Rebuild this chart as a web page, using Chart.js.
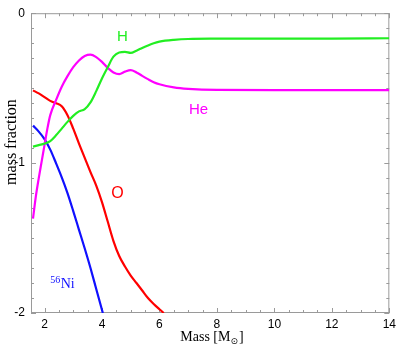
<!DOCTYPE html>
<html>
<head>
<meta charset="utf-8">
<script src="https://cdn.jsdelivr.net/npm/chart.js@4"></script>
<style>
  html, body { margin: 0; padding: 0; background: #fff; }
  #chart { display: block; }
</style>
</head>
<body>
<canvas id="chart" width="400" height="346"></canvas>
<script>
// log10 mass fraction vs. enclosed mass
const hMass  = [1.6, 1.8, 2.0, 2.2, 2.4, 2.6, 2.8, 3.0, 3.2, 3.4, 3.6, 3.8, 4.0, 4.2, 4.4, 4.6, 4.8, 5.0, 5.2, 5.4, 5.6, 5.8, 6.0, 6.5, 7.0, 8, 10, 12, 14];
const hFrac  = [-0.89, -0.88, -0.87, -0.853, -0.815, -0.77, -0.725, -0.685, -0.655, -0.64, -0.595, -0.52, -0.435, -0.36, -0.29, -0.262, -0.258, -0.265, -0.25, -0.232, -0.215, -0.2, -0.19, -0.178, -0.172, -0.17, -0.169, -0.169, -0.167];

const heMass = [1.6, 1.7, 1.8, 1.9, 2.0, 2.1, 2.2, 2.4, 2.6, 2.8, 3.0, 3.2, 3.4, 3.6, 3.8, 4.0, 4.2, 4.4, 4.6, 4.8, 5.0, 5.2, 5.4, 5.6, 5.8, 6.0, 6.5, 7.0, 8, 10, 12, 14];
const heFrac = [-1.37, -1.22, -1.1, -0.99, -0.88, -0.77, -0.68, -0.58, -0.49, -0.42, -0.36, -0.315, -0.285, -0.276, -0.293, -0.325, -0.365, -0.395, -0.406, -0.39, -0.38, -0.395, -0.418, -0.44, -0.46, -0.474, -0.495, -0.505, -0.512, -0.513, -0.513, -0.513];

const oMass  = [1.6, 1.8, 2.0, 2.2, 2.4, 2.6, 2.8, 3.0, 3.2, 3.4, 3.6, 3.8, 4.0, 4.2, 4.4, 4.6, 4.8, 5.0, 5.2, 5.4, 5.6, 5.8, 6.0, 6.15];
const oFrac  = [-0.515, -0.535, -0.56, -0.585, -0.6, -0.62, -0.68, -0.77, -0.87, -0.965, -1.06, -1.15, -1.26, -1.39, -1.52, -1.62, -1.69, -1.75, -1.80, -1.85, -1.90, -1.94, -1.975, -2.0];

const niMass = [1.6, 1.8, 2.0, 2.2, 2.4, 2.6, 2.8, 3.0, 3.2, 3.4, 3.6, 3.8, 4.03];
const niFrac = [-0.75, -0.79, -0.84, -0.91, -1.0, -1.095, -1.2, -1.32, -1.445, -1.57, -1.70, -1.84, -2.0];

const xTicks = [2, 4, 6, 8, 10, 12, 14];
const yTicks = [-2, -1, 0];

const xMin = 1.53, xMax = 14, yMin = -2, yMax = 0;

function pts(xs, ys) {
  return xs.map((x, i) => ({ x: x, y: ys[i] }));
}

function series(label, xs, ys, color) {
  return {
    label: label,
    data: pts(xs, ys),
    borderColor: color,
    borderWidth: 2.2,
    pointRadius: 0,
    fill: false,
    cubicInterpolationMode: 'monotone'
  };
}

// frame with inward ticks on all four sides
const framePlugin = {
  id: 'frame',
  beforeDatasetsDraw(chart) {
    const { ctx, chartArea: a, scales: { x, y } } = chart;
    ctx.save();
    ctx.strokeStyle = '#9a9a9a';
    ctx.lineWidth = 1;
    ctx.strokeRect(a.left + 0.5, a.top + 0.5, a.right - a.left - 1, a.bottom - a.top - 1);
    ctx.beginPath();
    for (let v = 2; v <= xMax + 1e-9; v += 0.5) {
      const px = Math.round(x.getPixelForValue(v)) + 0.5;
      const len = Math.abs(v % 2) < 1e-9 ? 5 : 3;
      ctx.moveTo(px, a.bottom); ctx.lineTo(px, a.bottom - len);
      ctx.moveTo(px, a.top); ctx.lineTo(px, a.top + len);
    }
    for (let k = -20; k <= 0; k++) {
      const v = k / 10;
      const py = Math.round(y.getPixelForValue(v)) + 0.5;
      const len = k % 10 === 0 ? 5 : 3;
      ctx.moveTo(a.left, py); ctx.lineTo(a.left + len, py);
      ctx.moveTo(a.right, py); ctx.lineTo(a.right - len, py);
    }
    ctx.stroke();
    ctx.restore();
  }
};

// curve labels and axis titles
const textPlugin = {
  id: 'texts',
  afterDatasetsDraw(chart) {
    const { ctx, chartArea: a, scales: { x, y } } = chart;
    ctx.save();
    ctx.textAlign = 'center';
    ctx.textBaseline = 'middle';
    ctx.font = '15px "Liberation Sans", Arial, sans-serif';
    ctx.fillStyle = '#22ee22';
    ctx.fillText('H', x.getPixelForValue(4.71), y.getPixelForValue(-0.155));
    ctx.fillStyle = '#ff00ff';
    ctx.fillText('He', x.getPixelForValue(7.36), y.getPixelForValue(-0.647));
    ctx.fillStyle = '#ff0000';
    ctx.font = '16px "Liberation Sans", Arial, sans-serif';
    ctx.fillText('O', x.getPixelForValue(4.54), y.getPixelForValue(-1.204));

    // 56Ni with superscript
    ctx.fillStyle = '#1010ff';
    ctx.textAlign = 'left';
    ctx.textBaseline = 'alphabetic';
    const nx = x.getPixelForValue(2.2), ny = y.getPixelForValue(-1.83);
    ctx.font = '10px "Liberation Serif", "Times New Roman", serif';
    ctx.fillText('56', nx, ny - 5);
    const sw = ctx.measureText('56').width;
    ctx.font = '14px "Liberation Serif", "Times New Roman", serif';
    ctx.fillText('Ni', nx + sw + 0.5, ny);

    // x title: Mass [M_sun]
    ctx.fillStyle = '#000';
    const f = '14px "Liberation Serif", "Times New Roman", serif';
    const fs = '9px "DejaVu Sans", sans-serif';
    ctx.font = f;
    const p1 = 'Mass [M', p3 = ']';
    const w1 = ctx.measureText(p1).width, w3 = ctx.measureText(p3).width;
    ctx.font = fs;
    const w2 = ctx.measureText('\u2299').width;
    const total = w1 + w2 + w3 + 1;
    const tx = 212 - total / 2;
    const ty = 341;
    ctx.font = f;
    ctx.fillText(p1, tx, ty);
    ctx.font = fs;
    ctx.fillText('\u2299', tx + w1, ty + 3);
    ctx.font = f;
    ctx.fillText(p3, tx + w1 + w2 + 1, ty);

    // y title
    ctx.translate(12, 142);
    ctx.rotate(-Math.PI / 2);
    ctx.textAlign = 'center';
    ctx.textBaseline = 'middle';
    ctx.font = '16px "Liberation Serif", "Times New Roman", serif';
    ctx.fillText('mass fraction', 0, 0);
    ctx.restore();
  }
};

const ctx = document.getElementById('chart').getContext('2d');
new Chart(ctx, {
  type: 'line',
  data: {
    datasets: [
      series('H', hMass, hFrac, '#22ee22'),
      series('He', heMass, heFrac, '#ff00ff'),
      series('O', oMass, oFrac, '#ff0000'),
      series('56Ni', niMass, niFrac, '#1010ff')
    ]
  },
  options: {
    responsive: false,
    animation: false,
    layout: { padding: { top: 4, right: 7, bottom: 0, left: 0 } },
    plugins: { legend: { display: false }, tooltip: { enabled: false } },
    scales: {
      x: {
        type: 'linear',
        min: xMin,
        max: xMax,
        grid: { display: false, drawTicks: false },
        border: { display: false },
        ticks: {
          color: '#000',
          padding: 4,
          maxRotation: 0,
          font: { family: '"Liberation Sans", Arial, sans-serif', size: 12 },
          callback: v => String(v)
        },
        afterBuildTicks: s => { s.ticks = xTicks.map(v => ({ value: v })); },
        afterFit: s => { s.height = 33; }
      },
      y: {
        type: 'linear',
        min: yMin,
        max: yMax,
        grid: { display: false, drawTicks: false },
        border: { display: false },
        ticks: {
          color: '#000',
          padding: 6,
          font: { family: '"Liberation Sans", Arial, sans-serif', size: 12 },
          callback: v => String(v)
        },
        afterBuildTicks: s => { s.ticks = yTicks.map(v => ({ value: v })); },
        afterFit: s => { s.width = 31; }
      }
    }
  },
  plugins: [framePlugin, textPlugin]
});
</script>
</body>
</html>
